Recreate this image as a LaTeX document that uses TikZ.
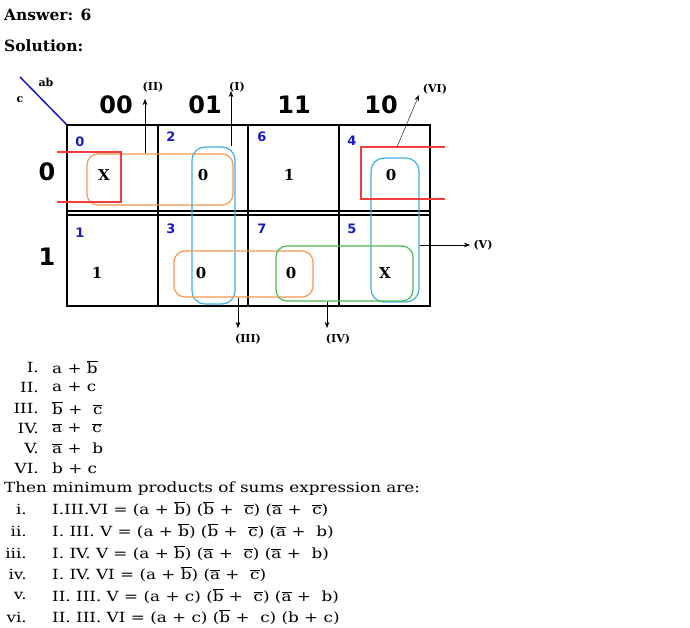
\documentclass[tikz,border=0pt]{standalone}
\usepackage{fontspec}
\setmainfont{DejaVu Serif}
\newfontfamily\kmapsans{DejaVu Sans}
\newfontfamily\bodyfont{DejaVu Serif}[FakeStretch=1.2]
\usetikzlibrary{arrows.meta}
\definecolor{kmblue}{RGB}{25,25,200}
\definecolor{kmred}{RGB}{245,60,60}
\definecolor{kmorange}{RGB}{250,150,80}
\definecolor{kmcyan}{RGB}{60,175,230}
\definecolor{kmgreen}{RGB}{80,185,80}
\newcommand{\nb}[1]{$\overline{\mbox{#1}}$}

\begin{document}
\begin{tikzpicture}[
    x=1pt, y=-1pt,
    >={Stealth[length=6pt, width=4.5pt]},
    grid/.style={line width=2pt},
    idx/.style={text=kmblue, font=\kmapsans\bfseries\fontsize{13}{13}\selectfont},
    val/.style={font=\bfseries\fontsize{15}{15}\selectfont},
    head/.style={font=\kmapsans\bfseries\fontsize{24}{24}\selectfont},
    grp/.style={draw=#1, line width=1.2pt, rounded corners=11pt, inner sep=0pt},
    tag/.style={font=\bfseries\fontsize{11}{11}\selectfont},
    txt/.style={font=\bodyfont\fontsize{14}{16}\selectfont, inner sep=0pt}
]
\useasboundingbox (0,0) rectangle (690,628);

% Titel
\node[txt, anchor=west, font=\bfseries\fontsize{15.5}{16}\selectfont] (answer) at (4,15) {Answer: 6};
\node[txt, anchor=west, font=\bfseries\fontsize{15.5}{16}\selectfont] (solution) at (4,46) {Solution:};

% Kopf der Karte
\draw[kmblue, line width=1.5pt] (20,77) -- (67,125);
\node[tag] (ab) at (46,82) {ab};
\node[tag] (c) at (20,100) {c};
\foreach \x/\lab in {116/00, 205/01, 294/11, 381/10}
    \node[head] (col\lab) at (\x,105) {\lab};
\node[head] (row0) at (47,172) {0};
\node[head] (row1) at (47,257) {1};

% Gitter
\draw[grid] (67,125) rectangle (430,306);
\foreach \x in {158, 248, 339}
    \draw[grid] (\x,125) -- (\x,306);
\draw[grid] (67,211) -- (430,211);
\draw[grid] (67,215.5) -- (430,215.5);

% Zellnummern
\foreach \x/\y/\m in {80/142/0, 171/137/2, 262/137/6, 352/141/4, 80/233/1, 171/229/3, 262/229/7, 352/229/5}
    \node[idx] (m\m) at (\x,\y) {\m};

% Zellwerte
\foreach \x/\y/\v/\m in {104/175/X/0, 203/175/0/2, 289/175/1/6, 391/175/0/4, 97/273/1/1, 201/273/0/3, 291/273/0/7, 385/273/X/5}
    \node[val] (v\m) at (\x,\y) {\v};

% Gruppen
\node[grp=kmorange, minimum width=146pt, minimum height=51pt] (grpII) at (160,179.5) {};
\node[grp=kmcyan, minimum width=43pt, minimum height=157pt, rounded corners=13pt] (grpI) at (213.5,225.5) {};
\node[grp=kmcyan, minimum width=48pt, minimum height=144pt, rounded corners=13pt] (grpV) at (395,230) {};
\node[grp=kmorange, minimum width=139pt, minimum height=46pt] (grpIII) at (243.5,274) {};
\node[grp=kmgreen, minimum width=137pt, minimum height=55pt] (grpIV) at (344.5,273.5) {};
\draw[kmred, line width=1.2pt] (57,152) -- (121,152) -- (121,202) -- (57,202);
\draw[kmred, line width=1.2pt] (445,147) -- (361,147) -- (361,199) -- (445,199);
\coordinate (grpVI) at (397,147);

% Pfeile
\coordinate (tipII) at (145,99);
\coordinate (tipI) at (231,91);
\coordinate (tipVI) at (419,95);
\coordinate (tipIII) at (238,328);
\coordinate (tipIV) at (327,328);
\coordinate (tipV) at (470,245);
\draw[->] (grpII.north -| tipII) -- (tipII);
\draw[->] (grpI.north -| tipI) -- (tipI);
\draw[->] (grpVI) -- (tipVI);
\draw[->] (grpIII.south -| tipIII) -- (tipIII);
\draw[->] (grpIV.south -| tipIV) -- (tipIV);
\draw[->] (grpV.east |- tipV) -- (tipV);
\node[tag] (labII) at (153,87) {(II)};
\node[tag] (labI) at (237,87) {(I)};
\node[tag] (labVI) at (435,89) {(VI)};
\node[tag] (labIII) at (248,339) {(III)};
\node[tag] (labIV) at (338,339) {(IV)};
\node[tag] (labV) at (483,245) {(V)};

% Summen
\foreach \y/\r/\e in {367/I./a + \nb{b}, 387/II./a + c, 408/III./\nb{b} + \ \nb{c}, 428/IV./\nb{a} + \ \nb{c}, 448/V./\nb{a} + \ b, 468/VI./b + c} {
    \node[txt, anchor=east] (num\r) at (39,\y) {\r};
    \node[txt, anchor=west] (sum\r) at (52,\y) {\e};
}

\node[txt, anchor=west] (then) at (4,489) {Then minimum products of sums expression are:};

% Produkte
\foreach \y/\r/\e in {509/i./{I.III.VI = (a + \nb{b}) (\nb{b} + \ \nb{c}) (\nb{a} + \ \nb{c})},
    531/ii./{I. III. V = (a + \nb{b}) (\nb{b} + \ \nb{c}) (\nb{a} + \ b)},
    553/iii./{I. IV. V = (a + \nb{b}) (\nb{a} + \ \nb{c}) (\nb{a} + \ b)},
    574/iv./{I. IV. VI = (a + \nb{b}) (\nb{a} + \ \nb{c})},
    596/v./{II. III. V = (a + c) (\nb{b} + \ \nb{c}) (\nb{a} + \ b)},
    617/vi./{II. III. VI = (a + c) (\nb{b} + \ c) (b + c)}} {
    \node[txt, anchor=east] (pnum\r) at (27,\y) {\r};
    \node[txt, anchor=west] (prod\r) at (52,\y) {\e};
}

\end{tikzpicture}
\end{document}
